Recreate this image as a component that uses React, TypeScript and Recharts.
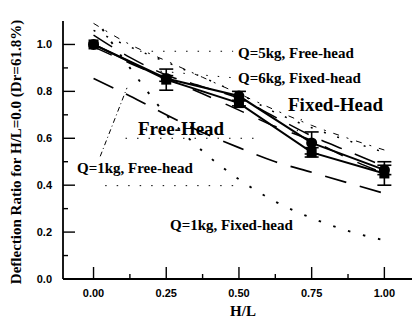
import React from 'react';
import { LineChart, Line, XAxis, YAxis, ErrorBar, ReferenceLine } from 'recharts';

// measured points (H/L = 0 .. 1)
const hlExp = [0, 0.25, 0.5, 0.75, 1.0];
const expFree = [1.0, 0.85, 0.75, 0.54, 0.45];
const expFreeErr = [0, 0.045, 0.012, 0.02, 0.05];
const expFixed = [1.0, 0.855, 0.78, 0.58, 0.465];
const expFixedErr = [0, 0.012, 0.02, 0.047, 0.02];

// computed curves
const hlCalc = [0, 0.125, 0.25, 0.375, 0.5, 0.625, 0.75, 0.875, 1.0];
const calcFixedHead = [1.04, 0.945, 0.87, 0.82, 0.77, 0.69, 0.61, 0.545, 0.48];
const calcFreeHead = [0.99, 0.92, 0.855, 0.79, 0.72, 0.65, 0.59, 0.515, 0.45];
const q1Free = [0.855, 0.78, 0.7, 0.625, 0.56, 0.5, 0.455, 0.41, 0.365];
const q1Fixed = [1.12, 0.9, 0.7, 0.545, 0.425, 0.33, 0.26, 0.205, 0.165];
const q5Free = [1.06, 0.99, 0.925, 0.86, 0.79, 0.71, 0.645, 0.59, 0.54];
const q6Fixed = [1.09, 1.0, 0.93, 0.86, 0.79, 0.72, 0.655, 0.6, 0.55];

// leader lines [x1, y1, x2, y2]
const leaders = [
  [0.16, 0.971, 0.48, 0.971],
  [0.23, 0.886, 0.48, 0.858],
  [0.023, 0.523, 0.115, 0.815],
  [0.7, 0.63, 0.72, 0.7],
  [0.11, 0.6, 0.57, 0.6],
  [0.04, 0.398, 0.5, 0.398],
];

const xTicks = [0, 0.125, 0.25, 0.375, 0.5, 0.625, 0.75, 0.875, 1.0];
const yTicks = [0, 0.1, 0.2, 0.3, 0.4, 0.5, 0.6, 0.7, 0.8, 0.9, 1.0];
const xDomain = [-0.105, 1.095];
const yDomain = [0, 1.1];

const toRows = (xs: number[], ys: number[], errs?: number[]) =>
  xs.map((x, i) => ({ x, y: ys[i], err: errs ? errs[i] : 0 }));

const SERIF = '"Liberation Serif", "Times New Roman", serif';
const SANS = '"Liberation Sans", Arial, sans-serif';

const isMajorX = (v: number) => Math.abs(v * 4 - Math.round(v * 4)) < 1e-6;
const isMajorY = (v: number) => Math.abs(v * 5 - Math.round(v * 5)) < 1e-6;

const BottomTick = (p: any) => {
  const v = p.payload.value;
  const major = isMajorX(v);
  return (
    <g>
      <line x1={p.x} x2={p.x} y1={p.y} y2={p.y - (major ? 12 : 5)} stroke="#000" strokeWidth={1.4} />
      {major && (
        <text x={p.x} y={p.y + 18} textAnchor="middle" fontFamily={SANS} fontWeight="bold" fontSize={11} fill="#000">
          {v.toFixed(2)}
        </text>
      )}
    </g>
  );
};

const TopTick = (p: any) => {
  const major = isMajorX(p.payload.value);
  return <line x1={p.x} x2={p.x} y1={p.y} y2={p.y + (major ? 12 : 5)} stroke="#000" strokeWidth={1.4} />;
};

const LeftTick = (p: any) => {
  const v = p.payload.value;
  const major = isMajorY(v);
  return (
    <g>
      <line x1={p.x} x2={p.x + (major ? 12 : 5)} y1={p.y} y2={p.y} stroke="#000" strokeWidth={1.4} />
      {major && (
        <text x={p.x - 11} y={p.y + 4} textAnchor="end" fontFamily={SANS} fontWeight="bold" fontSize={11} fill="#000">
          {v.toFixed(1)}
        </text>
      )}
    </g>
  );
};

const RightTick = (p: any) => {
  const major = isMajorY(p.payload.value);
  return <line x1={p.x} x2={p.x - (major ? 12 : 5)} y1={p.y} y2={p.y} stroke="#000" strokeWidth={1.4} />;
};

const SquareDot = (p: any) => {
  if (p.cx == null || p.cy == null) return <g key={p.key} />;
  return <rect key={p.key} x={p.cx - 5} y={p.cy - 5} width={10} height={10} fill="#000" />;
};

const labels = [
  { text: 'Q=5kg, Free-head', x: 238, y: 58, size: 15 },
  { text: 'Q=6kg, Fixed-head', x: 238, y: 83, size: 15 },
  { text: 'Fixed-Head', x: 288, y: 111, size: 19 },
  { text: 'Free-Head', x: 138, y: 135, size: 19 },
  { text: 'Q=1kg, Free-head', x: 77, y: 173, size: 15 },
  { text: 'Q=1kg, Fixed-head', x: 170, y: 230, size: 15 },
];

export default function App() {
  const calcLine = (ys: number[], dash: string, key: string, width = 1.5) => (
    <Line
      key={key}
      data={toRows(hlCalc, ys)}
      dataKey="y"
      type="monotone"
      stroke="#000"
      strokeWidth={width}
      strokeDasharray={dash}
      dot={false}
      isAnimationActive={false}
    />
  );

  return (
    <div style={{ position: 'absolute', left: 0, top: 0, width: 412, height: 323, background: '#fff' }}>
      <LineChart width={412} height={323} margin={{ top: 21, right: 0, bottom: 14, left: 13 }}>
        <XAxis
          type="number"
          dataKey="x"
          domain={xDomain}
          ticks={xTicks}
          allowDataOverflow
          height={30}
          tickSize={0}
          tickMargin={0}
          tickLine={false}
          tick={BottomTick}
          axisLine={{ stroke: '#000', strokeWidth: 1.8 }}
          interval={0}
        />
        <XAxis
          xAxisId="top"
          orientation="top"
          type="number"
          dataKey="x"
          domain={xDomain}
          ticks={xTicks}
          allowDataOverflow
          height={0}
          tickSize={0}
          tickMargin={0}
          tickLine={false}
          tick={TopTick}
          axisLine={{ stroke: '#000', strokeWidth: 1.8 }}
          interval={0}
        />
        <YAxis
          type="number"
          domain={yDomain}
          ticks={yTicks}
          allowDataOverflow
          width={50}
          tickSize={0}
          tickMargin={0}
          tickLine={false}
          tick={LeftTick}
          axisLine={{ stroke: '#000', strokeWidth: 1.8 }}
          interval={0}
        />
        <YAxis
          yAxisId="right"
          orientation="right"
          type="number"
          domain={yDomain}
          ticks={yTicks}
          allowDataOverflow
          width={0}
          tickSize={0}
          tickMargin={0}
          tickLine={false}
          tick={RightTick}
          axisLine={{ stroke: '#000', strokeWidth: 1.8 }}
          interval={0}
        />

        {leaders.map(([x1, y1, x2, y2], i) => (
          <ReferenceLine
            key={`ld-${i}`}
            segment={[{ x: x1, y: y1 }, { x: x2, y: y2 }]}
            stroke="#000"
            strokeWidth={1}
            strokeDasharray={i === 2 ? '5 3 1 3' : '1.5 10'}
            ifOverflow="hidden"
          />
        ))}

        {calcLine(calcFixedHead, '22 14', 'cfx')}
        {calcLine(calcFreeHead, '20 16', 'cfr')}
        {calcLine(q1Free, '22 14', 'q1fr', 1.7)}
        {calcLine(q1Fixed, '2.5 13', 'q1fx', 1.9)}
        {calcLine(q5Free, '2 12', 'q5', 1.5)}
        {calcLine(q6Fixed, '6 8 2 8', 'q6', 1)}

        <Line
          data={toRows(hlExp, expFree, expFreeErr)}
          dataKey="y"
          stroke="#000"
          strokeWidth={2}
          dot={SquareDot}
          isAnimationActive={false}
        >
          <ErrorBar dataKey="err" width={7} stroke="#000" strokeWidth={1.6} direction="y" />
        </Line>
        <Line
          data={toRows(hlExp, expFixed, expFixedErr)}
          dataKey="y"
          stroke="#000"
          strokeWidth={2}
          dot={{ r: 4.5, fill: '#000', stroke: '#000' }}
          isAnimationActive={false}
        >
          <ErrorBar dataKey="err" width={7} stroke="#000" strokeWidth={1.6} direction="y" />
        </Line>
      </LineChart>

      <svg width={412} height={323} style={{ position: 'absolute', left: 0, top: 0, pointerEvents: 'none' }}>
        {labels.map((l) => (
          <text key={l.text} x={l.x} y={l.y} fontFamily={SERIF} fontWeight="bold" fontSize={l.size} fill="#000">
            {l.text}
          </text>
        ))}
        <text x={243} y={316} textAnchor="middle" fontFamily={SERIF} fontWeight="bold" fontSize={15} fill="#000">
          H/L
        </text>
        <text
          transform="translate(21,152) rotate(-90)"
          textAnchor="middle"
          fontFamily={SERIF}
          fontWeight="bold"
          fontSize={15}
          fill="#000"
        >
          Deflection Ratio for H/L=0.0 (Dr=61.8%)
        </text>
      </svg>
    </div>
  );
}
